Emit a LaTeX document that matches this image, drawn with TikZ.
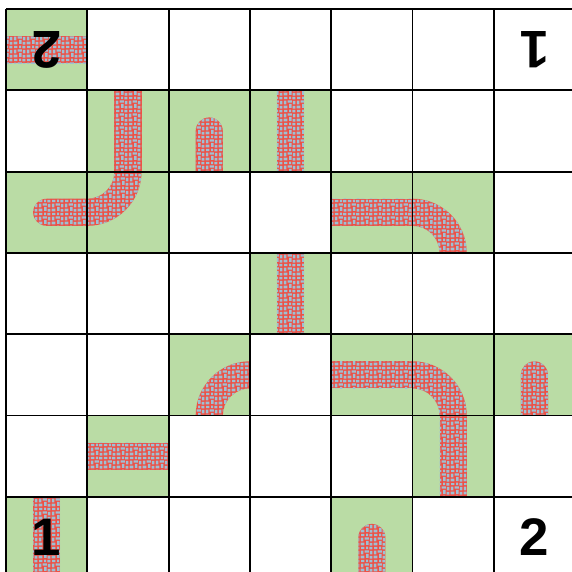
\documentclass[tikz,border=0pt]{standalone}
\usepackage{fontspec}
\newfontfamily\numfont{Liberation Sans}
\usetikzlibrary{patterns,calc}
\definecolor{tilegreen}{RGB}{186,220,165}
\definecolor{pipered}{RGB}{238,80,68}
\definecolor{pipeblue}{RGB}{158,192,212}
\pgfdeclarepatternformonly{cobble}{\pgfqpoint{0pt}{0pt}}{\pgfqpoint{9pt}{9pt}}{\pgfqpoint{9pt}{9pt}}{%
  \pgfpathrectangle{\pgfqpoint{0.5pt}{0.5pt}}{\pgfqpoint{2.6pt}{1.8pt}}
  \pgfpathrectangle{\pgfqpoint{4.2pt}{0.7pt}}{\pgfqpoint{1.8pt}{2.9pt}}
  \pgfpathrectangle{\pgfqpoint{6.8pt}{0.3pt}}{\pgfqpoint{1.9pt}{1.9pt}}
  \pgfpathrectangle{\pgfqpoint{0.6pt}{3.3pt}}{\pgfqpoint{1.8pt}{2.6pt}}
  \pgfpathrectangle{\pgfqpoint{3.3pt}{4.5pt}}{\pgfqpoint{2.9pt}{1.6pt}}
  \pgfpathrectangle{\pgfqpoint{6.9pt}{3.3pt}}{\pgfqpoint{1.8pt}{2.4pt}}
  \pgfpathrectangle{\pgfqpoint{0.7pt}{6.9pt}}{\pgfqpoint{2.4pt}{1.5pt}}
  \pgfpathrectangle{\pgfqpoint{4.2pt}{6.9pt}}{\pgfqpoint{1.5pt}{1.8pt}}
  \pgfpathrectangle{\pgfqpoint{6.5pt}{6.7pt}}{\pgfqpoint{2.2pt}{1.8pt}}
  \pgfusepath{fill}}
\newcommand{\hpipe}[2]{\fill[pipe] (#1,-#2-0.667) rectangle (#1+1,-#2-0.333);}
\newcommand{\vpipe}[2]{\fill[pipe] (#1+0.333,-#2) rectangle (#1+0.667,-#2-1);}
\newcommand{\upstub}[2]{%
  \fill[pipe] (#1+0.333,-#2-1) -- (#1+0.333,-#2-0.5)
    arc[start angle=180, end angle=0, radius=0.1667] -- (#1+0.667,-#2-1) -- cycle;}
\newcommand{\leftstub}[2]{%
  \fill[pipe] (#1+1,-#2-0.667) -- (#1+0.5,-#2-0.667)
    arc[start angle=270, end angle=90, radius=0.1667] -- (#1+1,-#2-0.333) -- cycle;}
\newcommand{\bend}[4]{%
  \fill[pipe] ($(#1,#2)+(#3:0.333)$) arc[start angle=#3, end angle=#4, radius=0.333]
    -- ($(#1,#2)+(#4:0.667)$) arc[start angle=#4, end angle=#3, radius=0.667] -- cycle;}
\tikzset{
  tilef/.style={fill=tilegreen},
  pipe/.style={fill=pipered, postaction={pattern=cobble, pattern color=pipeblue}},
  grd/.style={black, line width=1.3pt},
  num/.style={font=\numfont\fontsize{37}{37}\selectfont\bfseries, inner sep=0pt},
}
\begin{document}
\begin{tikzpicture}[x=2cm,y=2cm]
\useasboundingbox (-0.074,-6.925) rectangle (6.96,0.111);
\fill[white] (-0.074,-6.925) rectangle (6.96,0.111);
% green tiles
\foreach \c/\r in {0/0,1/1,2/1,3/1,0/2,1/2,4/2,5/2,3/3,2/4,4/4,5/4,6/4,1/5,5/5,0/6,4/6}
  \fill[tilef] (\c,-\r) rectangle ++(1,-1);
% pipes
\hpipe{0}{0}
\vpipe{1}{1} \upstub{2}{1} \vpipe{3}{1}
\leftstub{0}{2} \bend{1}{-2}{0}{-90}
\hpipe{4}{2} \bend{5}{-3}{90}{0}
\vpipe{3}{3}
\bend{3}{-5}{90}{180} \hpipe{4}{4} \bend{5}{-5}{90}{0} \upstub{6}{4}
\hpipe{1}{5} \vpipe{5}{5}
\vpipe{0}{6} \upstub{4}{6}
\draw[grd, step={(1,1)}] (0,-7) grid (7,0);
% numbers
\node[num, rotate=180] (topleft) at (0.5,-0.5) {2};
\node[num, rotate=180] (topright) at (6.5,-0.5) {1};
\node[num] (botleft) at (0.5,-6.5) {1};
\node[num] (botright) at (6.5,-6.5) {2};
\end{tikzpicture}
\end{document}
